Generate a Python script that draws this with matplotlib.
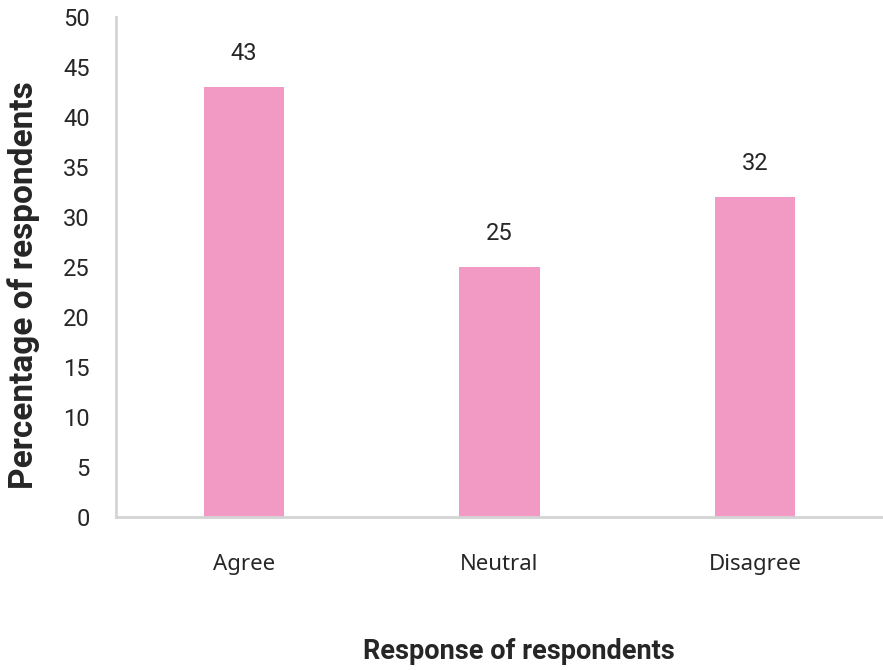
import matplotlib
matplotlib.use("Agg")
import matplotlib.pyplot as plt

categories = ["Agree", "Neutral", "Disagree"]
percentages = [43, 25, 32]
y_ticks = [0, 5, 10, 15, 20, 25, 30, 35, 40, 45, 50]

bar_color = "#F39AC4"
text_color = "#262626"
axis_color = "#D4D4D4"
num_font = ["Roboto", "DejaVu Sans"]
cat_font = ["Noto Sans", "DejaVu Sans"]

fig = plt.figure(figsize=(8.83, 6.70), dpi=100)
ax = fig.add_axes([0.1314, 0.2284, 0.8686, 0.7462])

x = list(range(len(categories)))
ax.bar(x, percentages, width=0.315, color=bar_color, zorder=2)

for xi, v in zip(x, percentages):
    ax.annotate(str(v), (xi, v), xytext=(0, 24), textcoords="offset points",
                ha="center", va="center", fontsize=17, color=text_color,
                family=num_font)

ax.set_xlim(-0.5, 2.5)
ax.set_ylim(0, 50)
ax.set_yticks(y_ticks)
ax.set_yticklabels([str(t) for t in y_ticks], family=num_font, fontsize=17,
                   color=text_color)
ax.set_xticks(x)
ax.set_xticklabels(categories, family=cat_font, fontsize=16, color=text_color)
ax.tick_params(axis="y", length=0, pad=19)
ax.tick_params(axis="x", length=0, pad=27)

for side in ("top", "right"):
    ax.spines[side].set_visible(False)
for side in ("left", "bottom"):
    ax.spines[side].set_color(axis_color)
    ax.spines[side].set_linewidth(2)

ax.set_ylabel("Percentage of respondents", family=num_font, fontsize=24,
              fontweight="bold", color=text_color, va="center")
ax.yaxis.set_label_coords(-0.121, 0.464)
ax.set_xlabel("Response of respondents", family=num_font, fontsize=19.5,
              fontweight="bold", color=text_color, va="center")
ax.xaxis.set_label_coords(0.525, -0.27)

fig.savefig("out.png", dpi=100)
